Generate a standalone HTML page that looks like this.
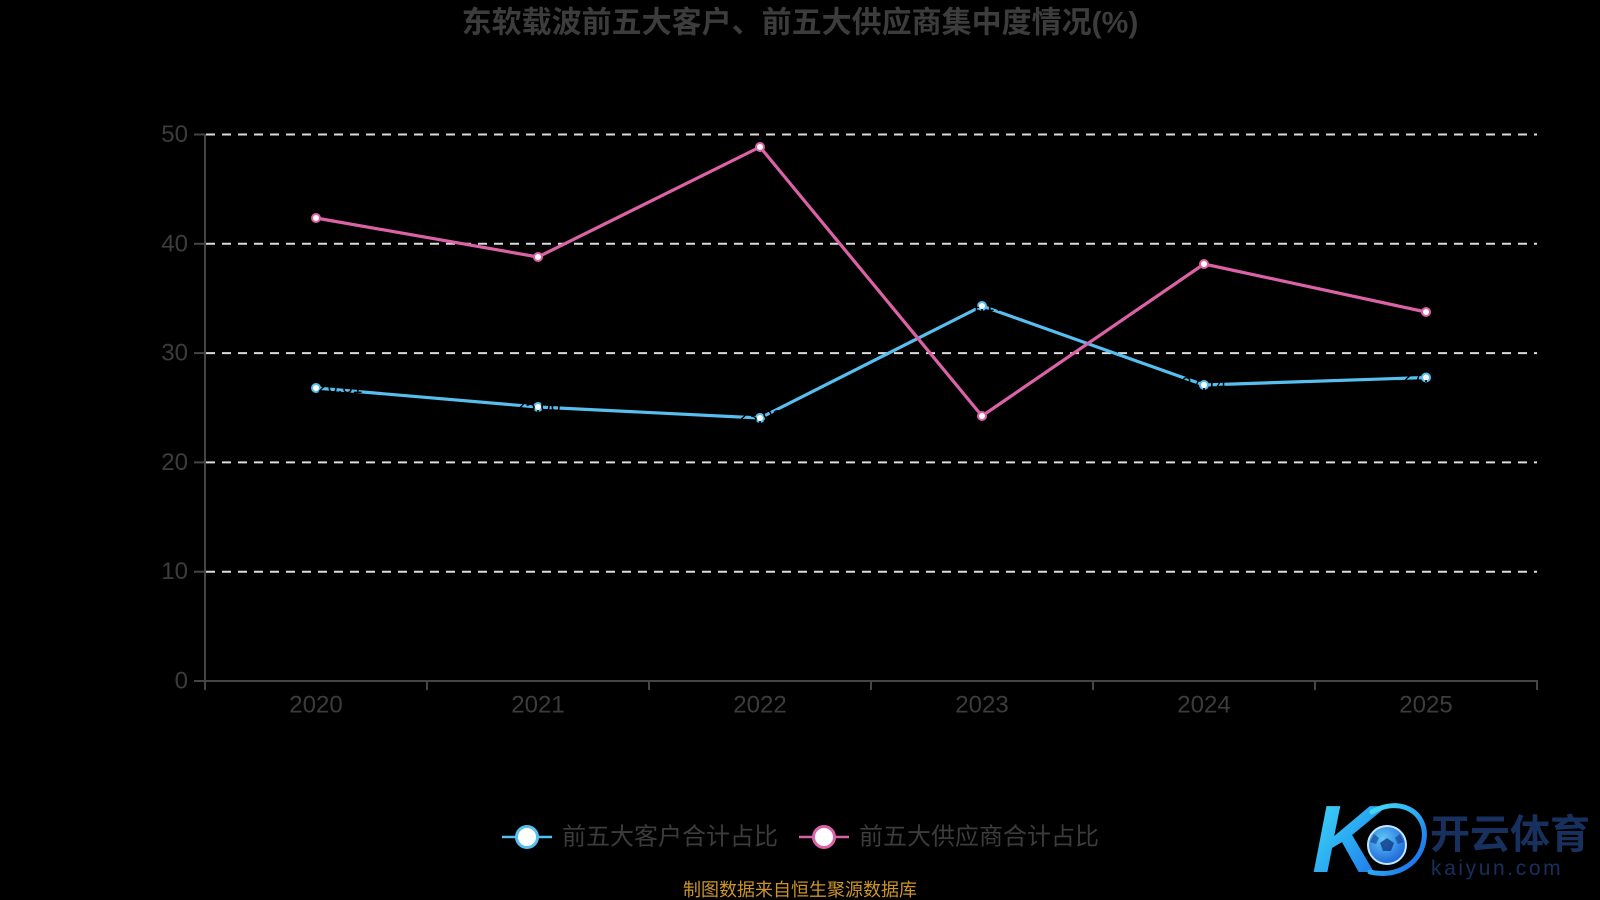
<!DOCTYPE html>
<html>
<head>
<meta charset="utf-8">
<style>
  html, body { margin:0; padding:0; background:#000; }
  body { width:1600px; height:900px; overflow:hidden; }
  svg { display:block; }
  text { font-family: "Liberation Sans", "Noto Sans CJK SC", sans-serif; }
</style>
</head>
<body>
<svg width="1600" height="900" viewBox="0 0 1600 900" xmlns="http://www.w3.org/2000/svg">
  <defs>
    <linearGradient id="kg" x1="0" y1="0" x2="1" y2="1">
      <stop offset="0" stop-color="#45e0f5"/>
      <stop offset="0.5" stop-color="#2aa8f2"/>
      <stop offset="1" stop-color="#1a5fe8"/>
    </linearGradient>
    <radialGradient id="ballg" cx="0.4" cy="0.35" r="0.7">
      <stop offset="0" stop-color="#5fc8f5"/>
      <stop offset="1" stop-color="#1a5fd8"/>
    </radialGradient>
  </defs>
  <rect width="1600" height="900" fill="#000"/>

  <!-- title -->
  <text x="800" y="23" text-anchor="middle" dominant-baseline="central" font-size="30" font-weight="bold" fill="#3c3c3c">东软载波前五大客户、前五大供应商集中度情况(%)</text>

  <!-- grid lines -->
  <g stroke="#dcdcdc" stroke-width="2" stroke-dasharray="9 7">
    <line x1="206" y1="134.5" x2="1537" y2="134.5"/>
    <line x1="206" y1="243.8" x2="1537" y2="243.8"/>
    <line x1="206" y1="353.1" x2="1537" y2="353.1"/>
    <line x1="206" y1="462.4" x2="1537" y2="462.4"/>
    <line x1="206" y1="571.7" x2="1537" y2="571.7"/>
  </g>

  <!-- axes -->
  <g stroke="#454545" stroke-width="2">
    <line x1="205" y1="134" x2="205" y2="681"/>
    <line x1="194" y1="134.5" x2="205" y2="134.5"/>
    <line x1="194" y1="243.8" x2="205" y2="243.8"/>
    <line x1="194" y1="353.1" x2="205" y2="353.1"/>
    <line x1="194" y1="462.4" x2="205" y2="462.4"/>
    <line x1="194" y1="571.7" x2="205" y2="571.7"/>
    <line x1="194" y1="681" x2="205" y2="681"/>
    <line x1="205" y1="681" x2="1538" y2="681"/>
    <line x1="205" y1="681" x2="205" y2="690"/>
    <line x1="427" y1="681" x2="427" y2="690"/>
    <line x1="649" y1="681" x2="649" y2="690"/>
    <line x1="871" y1="681" x2="871" y2="690"/>
    <line x1="1093" y1="681" x2="1093" y2="690"/>
    <line x1="1315" y1="681" x2="1315" y2="690"/>
    <line x1="1537" y1="681" x2="1537" y2="690"/>
  </g>

  <!-- y labels -->
  <g font-size="24" fill="#3c3c3c" text-anchor="end" dominant-baseline="central">
    <text x="188" y="134.5">50</text>
    <text x="188" y="243.8">40</text>
    <text x="188" y="353.1">30</text>
    <text x="188" y="462.4">20</text>
    <text x="188" y="571.7">10</text>
    <text x="188" y="681">0</text>
  </g>
  <!-- x labels -->
  <g font-size="24" fill="#3c3c3c" text-anchor="middle" dominant-baseline="central">
    <text x="316" y="705">2020</text>
    <text x="538" y="705">2021</text>
    <text x="760" y="705">2022</text>
    <text x="982" y="705">2023</text>
    <text x="1204" y="705">2024</text>
    <text x="1426" y="705">2025</text>
  </g>

  <!-- blue series -->
  <polyline fill="none" stroke="#56bff0" stroke-width="3.2" stroke-linejoin="round"
    points="316,388 538,407 760,418 982,306 1204,385 1426,377.5"/>
  <!-- pink series -->
  <polyline fill="none" stroke="#db62a6" stroke-width="3.2" stroke-linejoin="round"
    points="316,218 538,257 760,147 982,416 1204,264 1426,312"/>

  <!-- markers -->
  <g fill="#fff" stroke="#56bff0" stroke-width="2">
    <circle cx="316" cy="388" r="4"/>
    <circle cx="538" cy="407" r="4"/>
    <circle cx="760" cy="418" r="4"/>
    <circle cx="982" cy="306" r="4"/>
    <circle cx="1204" cy="385" r="4"/>
    <circle cx="1426" cy="377.5" r="4"/>
  </g>
  <g fill="#fff" stroke="#db62a6" stroke-width="2">
    <circle cx="316" cy="218" r="4"/>
    <circle cx="538" cy="257" r="4"/>
    <circle cx="760" cy="147" r="4"/>
    <circle cx="982" cy="416" r="4"/>
    <circle cx="1204" cy="264" r="4"/>
    <circle cx="1426" cy="312" r="4"/>
  </g>

  <!-- hidden (black) data labels of blue series -->
  <g font-size="18" fill="#000" text-anchor="middle">
    <text x="340" y="393">26.81</text>
    <text x="538" y="412">25.06</text>
    <text x="760" y="423">23.98</text>
    <text x="982" y="311">34.17</text>
    <text x="1204" y="390">27.14</text>
    <text x="1426" y="382">27.76</text>
  </g>

  <!-- legend -->
  <line x1="502" y1="837" x2="552" y2="837" stroke="#56bff0" stroke-width="2.5"/>
  <circle cx="527" cy="837" r="10.5" fill="#fff" stroke="#56bff0" stroke-width="3"/>
  <text x="562" y="837" font-size="24" fill="#3c3c3c" dominant-baseline="central">前五大客户合计占比</text>
  <line x1="799" y1="837" x2="849" y2="837" stroke="#db62a6" stroke-width="2.5"/>
  <circle cx="824" cy="837" r="10.5" fill="#fff" stroke="#db62a6" stroke-width="3"/>
  <text x="859" y="837" font-size="24" fill="#3c3c3c" dominant-baseline="central">前五大供应商合计占比</text>

  <!-- source -->
  <text x="800" y="890" text-anchor="middle" dominant-baseline="central" font-size="18" fill="#cc9528">制图数据来自恒生聚源数据库</text>

  <!-- logo -->
  <g>
    <text x="1312" y="872" font-family="Liberation Serif, serif" font-style="italic" font-weight="bold" font-size="96" fill="url(#kg)">K</text>
    <path d="M1372,812 C1400,796 1428,812 1424,840 C1420,866 1394,878 1370,872" fill="none" stroke="url(#kg)" stroke-width="5" stroke-linecap="round"/>
    <circle cx="1387" cy="845" r="19" fill="url(#ballg)" stroke="#bfe8ff" stroke-width="2"/>
    <polygon points="1387,838 1394,843 1391,851 1383,851 1380,843" fill="#0f3a8a" opacity="0.8"/>
    <polygon points="1374,834 1379,838 1376,844 1370,842" fill="#0f3a8a" opacity="0.6"/>
    <polygon points="1400,834 1404,842 1398,844 1395,838" fill="#0f3a8a" opacity="0.6"/>
    <text x="1430" y="848" font-size="40" font-weight="bold" font-family="Liberation Sans, 'Noto Sans CJK SC', sans-serif" fill="#17305e">开云体育</text>
    <text x="1431" y="875" font-size="21" letter-spacing="2.6" fill="#17305e">kaiyun.com</text>
  </g>
</svg>
</body>
</html>
